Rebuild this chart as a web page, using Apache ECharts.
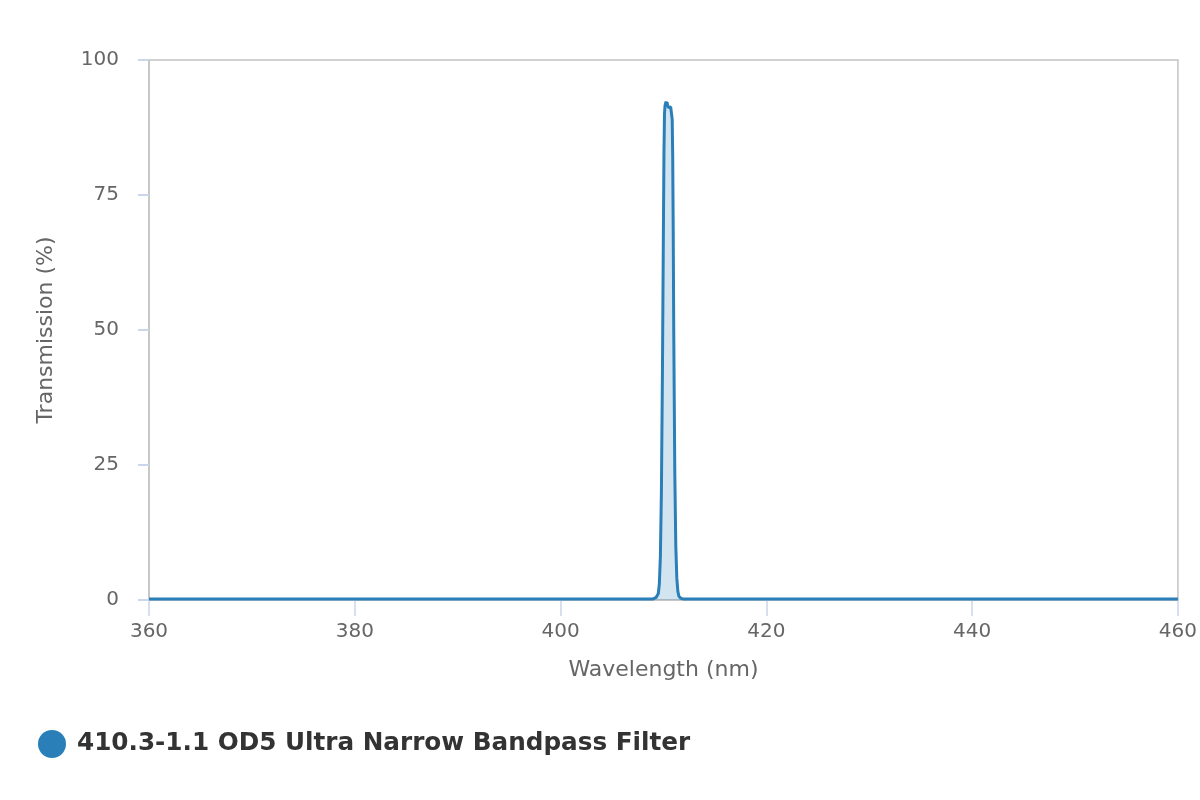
<!DOCTYPE html>
<html>
<head>
<meta charset="utf-8">
<script src="https://cdn.jsdelivr.net/npm/echarts@6/dist/echarts.min.js"></script>
<style>html,body{margin:0;padding:0;background:#fff}#c{width:1200px;height:800px}</style>
</head>
<body>
<div id="c"></div>
<script>
var seriesName = '410.3-1.1 OD5 Ultra Narrow Bandpass Filter';
var wavelengths = [360, 380, 400, 408, 409.0, 409.3, 409.5, 409.6, 409.7, 409.8, 409.9, 410.0, 410.05, 410.1, 410.15, 410.2, 410.25, 410.3, 410.35, 410.4, 410.5, 410.6, 410.7, 410.8, 410.85, 410.9, 410.95, 411.0, 411.1, 411.2, 411.3, 411.4, 411.5, 411.7, 411.9, 420, 440, 460];
var transmission = [0.2, 0.2, 0.2, 0.2, 0.2, 0.5, 1.2, 3, 8, 20, 42, 70, 83, 90, 91.5, 91.8, 92.3, 91.7, 92.2, 91.6, 91.2, 91.5, 91.3, 91, 89, 82, 68, 50, 24, 10, 4, 1.6, 0.7, 0.3, 0.2, 0.2, 0.2, 0.2];
var xTicks = [360, 380, 400, 420, 440, 460];
var yTicks = [0, 25, 50, 75, 100];

var data = wavelengths.map(function (w, i) { return [w, transmission[i]]; });
var chart = echarts.init(document.getElementById('c'));
var labelFont = 'DejaVu Sans';
chart.setOption({
  animation: false,
  grid: { left: 149, right: 19, top: 60, bottom: 200, show: true, borderColor: '#c4c4c4', borderWidth: 1.5 },
  legend: {
    left: 33, top: 725, icon: 'circle', itemWidth: 40, itemHeight: 28, itemGap: 10,
    textStyle: { fontFamily: 'DejaVu Sans', fontWeight: 'bold', fontSize: 24.7, color: '#333' },
    data: [seriesName]
  },
  xAxis: {
    type: 'value', min: xTicks[0], max: xTicks[xTicks.length - 1], interval: 20,
    name: 'Wavelength (nm)', nameLocation: 'middle', nameGap: 59,
    nameTextStyle: { fontFamily: labelFont, fontSize: 22, color: '#666' },
    axisLine: { show: true, lineStyle: { color: '#c4c4c4', width: 1.5 } },
    axisTick: { show: true, length: 16, lineStyle: { color: '#ccd6eb', width: 1.5 } },
    axisLabel: { fontFamily: labelFont, fontSize: 20, color: '#666', margin: 22 },
    splitLine: { show: false }
  },
  yAxis: {
    type: 'value', min: yTicks[0], max: yTicks[yTicks.length - 1], interval: 25,
    name: 'Transmission (%)', nameLocation: 'middle', nameGap: 92,
    nameTextStyle: { fontFamily: labelFont, fontSize: 22, color: '#666' },
    axisLine: { show: true, lineStyle: { color: '#c4c4c4', width: 1.5 } },
    axisTick: { show: true, inside: false, length: 11, lineStyle: { color: '#ccd6eb', width: 2 } },
    axisLabel: { fontFamily: labelFont, fontSize: 20, color: '#666', margin: 30 },
    splitLine: { show: false }
  },
  series: [{
    name: seriesName, type: 'line', data: data, showSymbol: false, symbol: 'none',
    itemStyle: { color: '#2a7fb8' },
    lineStyle: { color: '#2a7fb8', width: 3 },
    areaStyle: { color: 'rgba(42,127,184,0.3)' }
  }]
});
</script>
</body>
</html>
